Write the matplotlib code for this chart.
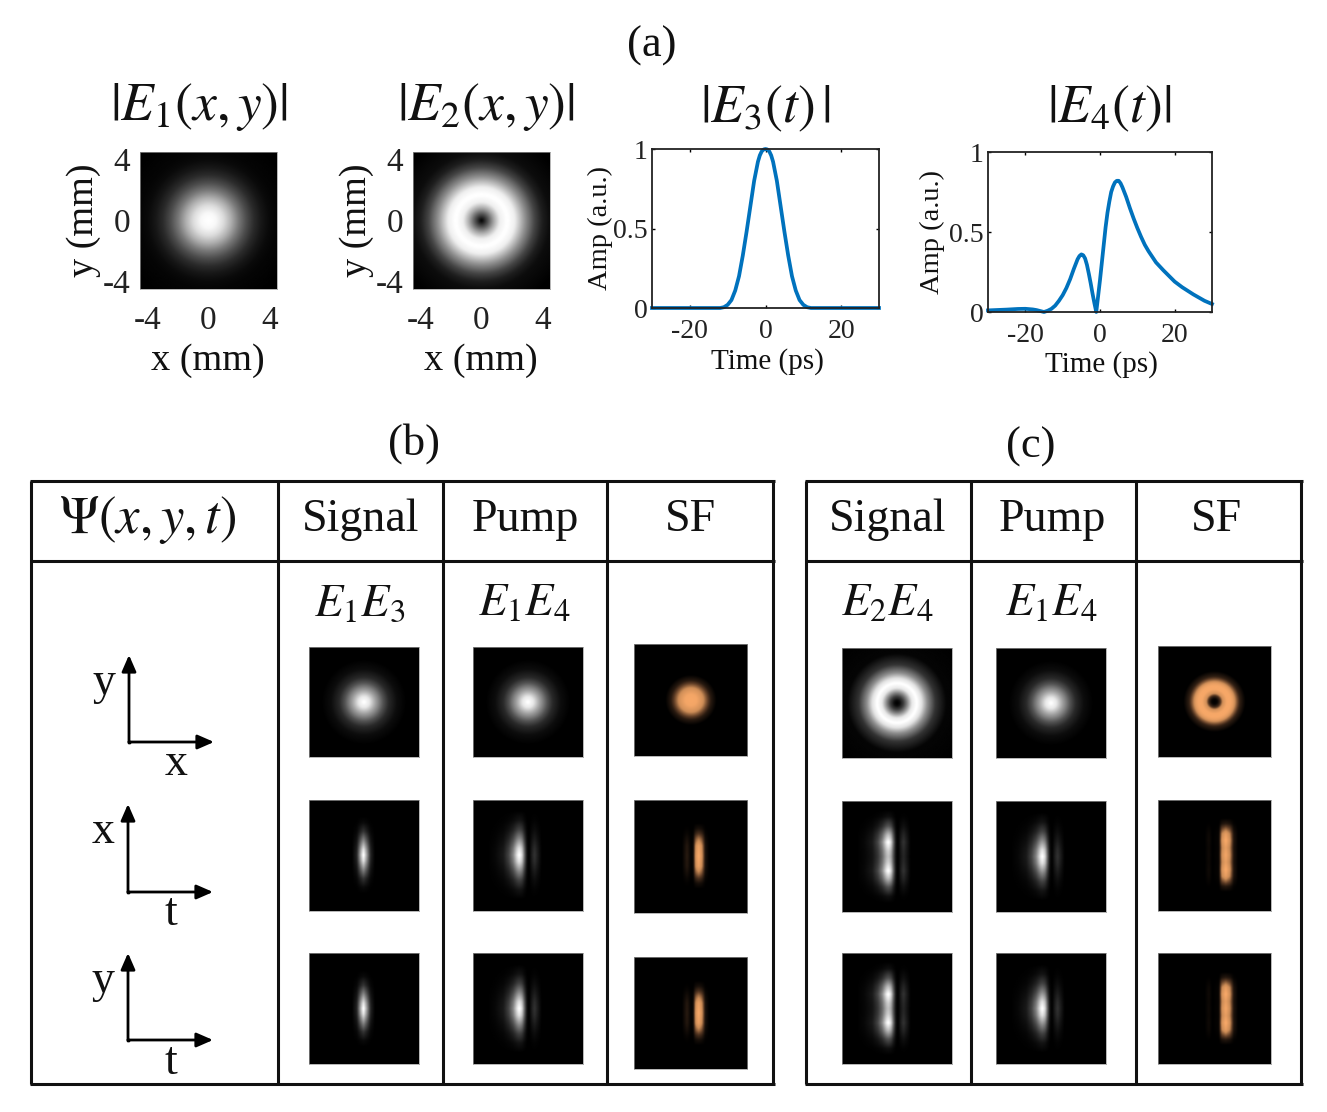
import numpy as np
import matplotlib
matplotlib.use("Agg")
import matplotlib.pyplot as plt
from matplotlib.colors import LinearSegmentedColormap

# ---------- values ----------
t3 = [-30,-20,-12,-11,-10,-9,-8,-7,-6,-5,-4,-3,-2.5,-2,-1.5,-1,-.5,0,.5,1,1.5,2,2.5,3,4,5,6,7,8,9,10,11,12,20,30]
e3 = [0,0,0,.005,.02,.05,.11,.2,.33,.48,.64,.8,.86,.92,.96,.985,.997,1,.997,.985,.96,.92,.86,.8,.64,.48,.33,.2,.11,.05,.02,.005,0,0,0]
t4 = [-30,-25,-22,-20,-18,-17,-16,-15,-14,-13,-12,-11,-10,-9,-8,-7,-6.5,-6,-5.5,-5,-4.5,-4,-3.5,-3,-2.5,-2,-1.5,-1,-.5,0,.5,1,1.5,2,2.5,3,3.5,4,4.5,5,5.5,6,7,8,9,10,11,12,13,15,17,20,22,25,28,30]
e4 = [.01,.015,.019,.02,.016,.012,.006,0,.008,.02,.04,.07,.105,.15,.205,.27,.3,.33,.35,.36,.355,.335,.295,.24,.18,.115,.055,0,.1,.2,.31,.42,.53,.62,.69,.75,.785,.81,.82,.82,.805,.78,.72,.65,.585,.525,.47,.42,.38,.31,.26,.19,.155,.11,.07,.05]

# radial amplitude of the two large beams (r in mm)
r_beam = [0,.5,1,1.5,2,2.5,3,3.5,4,4.5,6,8]
e1_r   = [1,.97,.86,.68,.47,.3,.17,.09,.04,.02,0,0]
r_ring = [0,.2,.45,.8,1.2,1.7,2.2,2.9,3.5,4,4.5,6,8]
e2_r   = [0,.15,.35,.65,.93,1,.93,.55,.27,.12,.05,0,0]

# small panels: u, v run from -1 to 1 across the panel
r_small  = [0,.1,.2,.27,.35,.45,.6,.78,1.5]
small_r  = [1,.9,.65,.5,.32,.16,.05,0,0]
r_sf     = [0,.1,.2,.27,.35,.45,1.5]
sf_r     = [1,.97,.75,.45,.15,0,0]
r_donut  = [0,.05,.12,.18,.27,.36,.45,.55,.7,.9,1.5]
donut_r  = [0,.05,.25,.5,.9,1,.88,.55,.2,.02,0]
r_sfd    = [0,.05,.1,.15,.22,.28,.33,.38,.45,.55,1.5]
sfd_r    = [0,.03,.25,.75,1,1,.88,.55,.18,0,0]

u_sig = [-1,-.22,-.13,-.07,-.01,.05,.12,.2,1]
g_sig = [0,0,.14,.6,1,.6,.14,0,0]
v_sig = [0,.1,.27,.42,.58,.7,1.2]
h_sig = [1,.88,.5,.2,.04,0,0]

u_pump = [-1,-.75,-.6,-.45,-.35,-.27,-.2,-.16,-.11,-.07,-.02,.02,.07,.12,.17,.25,1]
g_pump = [0,0,.03,.1,.27,.52,.88,1,.85,.45,.06,0,.12,.2,.12,0,0]
v_pump = [0,.12,.3,.45,.62,.8,1.2]
h_pump = [1,.88,.52,.26,.08,0,0]

u_sfb = [-1,-.16,-.07,.0,.04,.08,.135,.19,.25,.32,1]
g_sfb = [0,0,.15,.02,.05,.72,1,.72,.1,0,0]
v_sfb = [0,.18,.3,.4,.48,.58,1.2]
h_sfb = [1,.9,.58,.26,.09,0,0]

v_two = [0,.1,.26,.4,.55,.72,.85,1.2]
h_two = [.74,.8,1,.72,.32,.06,0,0]

u_sfc = [-1,-.18,-.1,-.04,.08,.13,.2,.27,.34,.42,1]
g_sfc = [0,0,.06,0,.03,.72,1,.72,.12,0,0]
v_sfc = [0,.13,.26,.38,.47,.56,.66,1.2]
h_sfc = [.95,.86,1,.86,.5,.14,0,0]

# ---------- layout helpers (pixels of the 1327x1112 sheet) ----------
W, H = 1327, 1112
plt.rcParams["font.family"] = ["Liberation Serif", "DejaVu Serif"]
plt.rcParams["mathtext.fontset"] = "stix"
plt.rcParams["axes.unicode_minus"] = False
fig = plt.figure(figsize=(W/100, H/100), dpi=100, facecolor="white")
ink = "#111111"
orange = LinearSegmentedColormap.from_list("sf", ["#000000", "#5a3a24", "#c98a55", "#F7A868"], N=256)

def box(x0, y0, x1, y1, **kw):
    return fig.add_axes([x0/W, 1-y1/H, (x1-x0)/W, (y1-y0)/H], **kw)

bg = box(0, 0, W, H)
bg.set_xlim(0, W); bg.set_ylim(H, 0); bg.axis("off")

def label(x, y, s, size, **kw):
    bg.text(x, y + 3, s, fontsize=size, ha="center", va="center", color=ink, **kw)

def smooth(xs, ys, lim, width=.05):
    xf = np.linspace(-lim, lim, 1601)
    mx = np.asarray(xs, float); my = np.asarray(ys, float)
    if mx[0] >= 0:
        mx = np.r_[-mx[:0:-1], mx]; my = np.r_[my[:0:-1], my]
    yf = np.interp(xf, mx, my)
    n = max(3, int(width/(xf[1]-xf[0])))
    k = np.hanning(n); k /= k.sum()
    return xf, np.convolve(yf, k, mode="same")

def radial_image(rs, vals, lim, width=.05, n=300):
    xf, yf = smooth(rs, vals, lim*1.5, width)
    c = np.linspace(-lim, lim, n)
    X, Y = np.meshgrid(c, c)
    img = np.interp(np.hypot(X, Y), xf, yf)
    return img/img.max()

def sep_image(us, gs, vs, hs, n=300):
    xu, yu = smooth(us, gs, 1, .05)
    xv, yv = smooth(vs, hs, 1.2, .05)
    c = np.linspace(-1, 1, n)
    img = np.outer(np.interp(c, xv, yv), np.interp(c, xu, yu))
    return img/img.max()

def panel(rect, img, cmap="gray", vmax=1):
    ax = box(*rect)
    ax.imshow(img, cmap=cmap, vmin=0, vmax=vmax, aspect="auto", interpolation="bilinear")
    ax.set_xticks([]); ax.set_yticks([])
    for s in ax.spines.values():
        s.set_color("#999999"); s.set_linewidth(.5)
    return ax

# ---------- (a) ----------
label(652, 43, "(a)", 32)
label(199, 104, r"$|E_1(x,y)|$", 38.5)
label(486, 104, r"$|E_2(x,y)|$", 38.5)
label(765, 106, r"$|E_3(t)\,|$", 38.5)
label(1109, 106, r"$|E_4(t)|$", 38.5)

for rect, img, xlab, ylab in [
    ((140, 152, 277, 289), radial_image(r_beam, e1_r, 4.5, .3), 208, 84),
    ((413, 152, 550, 289), radial_image(r_ring, e2_r, 4.5, .3), 481, 357)]:
    ax = box(*rect)
    ax.imshow(img, cmap="gray", vmin=0, vmax=1, extent=[-4.5, 4.5, -4.5, 4.5],
              aspect="auto", interpolation="bilinear")
    ax.set_xticks([-4, 0, 4]); ax.set_yticks([-4, 0, 4])
    ax.set_xticklabels(["-4", "0", "4"])
    ax.set_yticklabels(["-4", "0", "4"])
    ax.tick_params(length=0, labelsize=24, labelcolor="#222222", pad=12)
    ax.tick_params(axis="y", pad=7)
    for s in ax.spines.values():
        s.set_color("#999999"); s.set_linewidth(.5)
    label(xlab, 358, "x (mm)", 27.5)
    label(ylab, 217, "y (mm)", 27.5, rotation=90)

for rect, t, e, lx, ly, ty in [
    ((652, 149, 879, 308), t3, e3, 767, 600, 359),
    ((988, 152, 1212, 312), t4, e4, 1101, 932, 362)]:
    ax = box(*rect)
    ax.plot(t, e, color="#0072BD", lw=2.7, clip_on=False, solid_joinstyle="round")
    ax.set_xlim(-30, 30); ax.set_ylim(0, 1)
    ax.set_xticks([-20, 0, 20]); ax.set_yticks([0, .5, 1])
    ax.set_xticklabels(["-20", "0", "20"])
    ax.set_yticklabels(["0", "0.5", "1"])
    ax.tick_params(direction="in", top=True, right=True, length=2.5, width=1,
                   labelsize=20, labelcolor="#222222", pad=3)
    ax.tick_params(axis="x", pad=8)
    for s in ax.spines.values():
        s.set_linewidth(1.3); s.set_color("#222222")
    label(lx, ty, "Time (ps)", 21)
    label(ly, (rect[1]+rect[3])/2 - 3, "Amp (a.u.)", 20.5, rotation=90)

# ---------- tables ----------
label(414, 441, "(b)", 32)
label(1031, 444, "(c)", 32)
lw_tab = 2.2
for xs, x0, x1 in [([31, 278, 443, 607, 773], 31, 773), ([806, 971, 1136, 1301], 806, 1301)]:
    for x in xs:
        bg.plot([x, x], [481, 1084], color=ink, lw=lw_tab, solid_capstyle="butt")
    for y in (481, 561, 1084):
        bg.plot([x0-1.5, x1+1.5], [y, y], color=ink, lw=lw_tab, solid_capstyle="butt")

label(148, 517, r"$\Psi(x,y,t)$", 38)
for x, s in [(361, "Signal"), (525, "Pump"), (690, "SF"), (888, "Signal"), (1052, "Pump"), (1216, "SF")]:
    label(x, 517, s, 33)
for x, s in [(360, r"$E_1E_3$"), (524, r"$E_1E_4$"), (887, r"$E_2E_4$"), (1051, r"$E_1E_4$")]:
    label(x, 601, s, 33.5)

# axes glyphs
for ox, oy, xt, yt, lab1, p1, lab2, p2 in [
    (129, 742, 214, 655, "y", (104, 680), "x", (176, 761)),
    (128, 892, 213, 804, "x", (103, 829), "t", (171, 911)),
    (128, 1040, 213, 953, "y", (103, 978), "t", (171, 1060))]:
    for end in ((xt, oy), (ox, yt)):
        bg.annotate("", xy=end, xytext=(ox, oy),
                    arrowprops=dict(arrowstyle="-|>,head_length=.55,head_width=.24", color="black",
                                    lw=2, shrinkA=0, shrinkB=0, mutation_scale=18))
    bg.plot([ox, ox], [oy, oy], "s", ms=1.5, color="black")
    label(p1[0], p1[1], lab1, 33)
    label(p2[0], p2[1], lab2, 33)

# ---------- small panels ----------
sm = radial_image(r_small, small_r, 1)
panel((309, 647, 419, 757), sm)
panel((473, 647, 583, 757), sm)
panel((634, 644, 747, 756), radial_image(r_sf, sf_r, 1), orange)
panel((842, 648, 952, 758), radial_image(r_donut, donut_r, 1))
panel((996, 648, 1106, 758), sm)
panel((1158, 646, 1271, 757), radial_image(r_sfd, sfd_r, 1), orange)

sig = sep_image(u_sig, g_sig, v_sig, h_sig)
pump = sep_image(u_pump, g_pump, v_pump, h_pump)
sfb = sep_image(u_sfb, g_sfb, v_sfb, h_sfb)
two = sep_image(u_pump, g_pump, v_two, h_two)
sfc = sep_image(u_sfc, g_sfc, v_sfc, h_sfc)

panel((309, 800, 419, 911), sig)
panel((473, 800, 583, 911), pump)
panel((634, 800, 747, 913), sfb, orange)
panel((309, 953, 419, 1064), sig)
panel((473, 953, 583, 1064), pump)
panel((634, 957, 747, 1069), sfb, orange)
panel((842, 801, 952, 912), two)
panel((996, 801, 1106, 912), pump)
panel((1158, 800, 1271, 911), sfc, orange)
panel((842, 953, 952, 1064), two)
panel((996, 953, 1106, 1064), pump)
panel((1158, 953, 1271, 1064), sfc, orange)

fig.savefig("out.png", dpi=100)
